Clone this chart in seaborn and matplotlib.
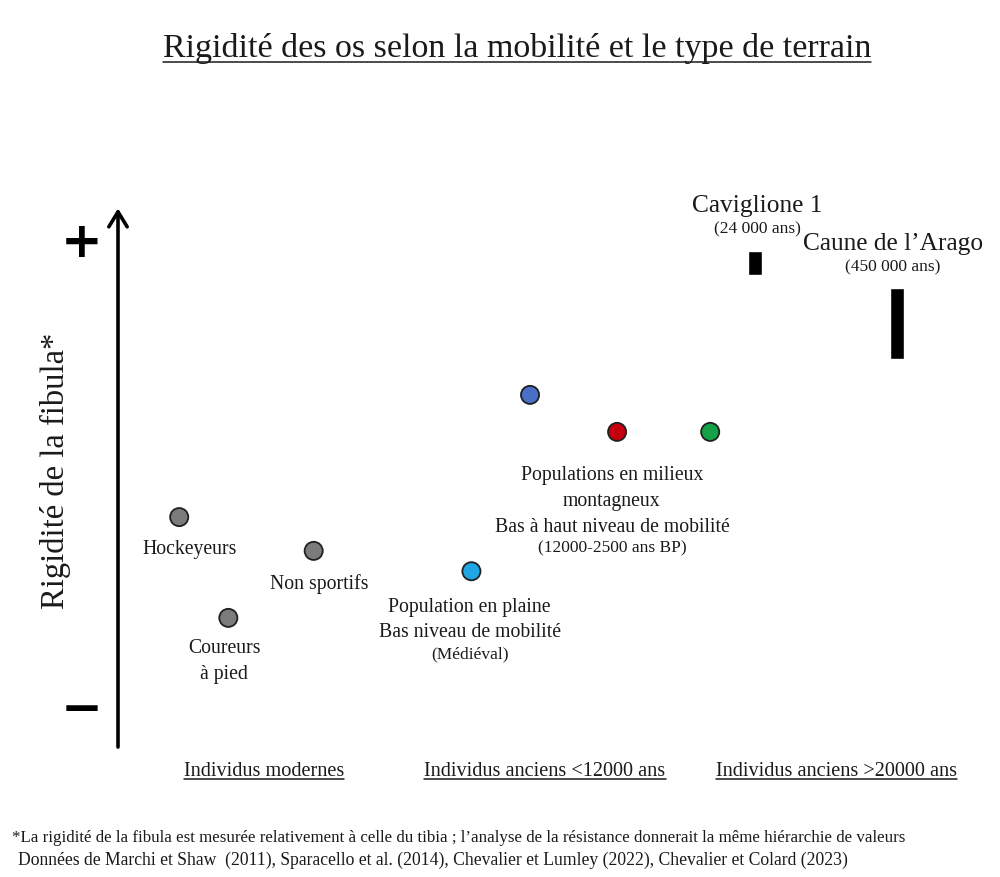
import pandas as pd
import matplotlib.pyplot as plt
import seaborn as sns
from matplotlib.lines import Line2D

# ================= DONNEES =================
groupes = ['Hockeyeurs', 'Coureurs à pied', 'Non sportifs', 'Plaine',
           'Montagne A', 'Montagne B', 'Montagne C']
pos_x = [7.1, 12.8, 22.7, 41.0, 47.8, 57.9, 68.7]
rigidite = [42.9, 24.1, 36.6, 32.8, 65.7, 58.8, 58.8]
couleurs = ['#7c7c7c', '#7c7c7c', '#7c7c7c', '#1ea7e4',
            '#4a70c6', '#c5000e', '#15a146']

fossiles = ['Caviglione 1', "Caune de l’Arago"]
fossiles_age = ['(24 000 ans)', '(450 000 ans)']
fossiles_x = [73.9, 90.4]
fossiles_bas = [88.1, 72.4]
fossiles_haut = [92.5, 85.6]

categories = ['Individus modernes', 'Individus anciens <12000 ans',
              'Individus anciens >20000 ans']

titre = 'Rigidité des os selon la mobilité et le type de terrain'
note_1 = ('*La rigidité de la fibula est mesurée relativement à celle du tibia ; '
          'l’analyse de la résistance donnerait la même hiérarchie de valeurs')
note_2 = ('Données de Marchi et Shaw  (2011), Sparacello et al. (2014), '
          'Chevalier et Lumley (2022), Chevalier et Colard (2023)')

df = pd.DataFrame({'groupe': groupes, 'x': pos_x, 'rigidite': rigidite})

sns.set_theme(style='white')
plt.rcParams['font.family'] = ['Liberation Serif', 'DejaVu Serif']
ENCRE = '#1a1a1a'

fig = plt.figure(figsize=(10, 8.78), dpi=100)
ax = fig.add_axes([0.118, 0.148, 0.862, 0.6105])
ax.set_xlim(0, 100)
ax.set_ylim(0, 100)
ax.axis('off')

# points
sns.scatterplot(data=df, x='x', y='rigidite', hue='groupe',
                palette=dict(zip(groupes, couleurs)), s=170,
                edgecolor='#202020', linewidth=1.3, legend=False, ax=ax, zorder=3)

# barres des fossiles
hauteurs = [h - b for h, b in zip(fossiles_haut, fossiles_bas)]
ax.bar(fossiles_x, hauteurs, bottom=fossiles_bas, width=1.6, color='black')

# fleche verticale
ax.annotate('', xy=(0, 1.005), xytext=(0, 0), xycoords='axes fraction',
            arrowprops=dict(arrowstyle='->,head_length=0.9,head_width=0.55',
                            lw=2.6, color='black', shrinkA=0, shrinkB=0))

# etiquettes des points
fs = 14.2
fp = 12.5
ls = 1.47
ax.text(8.35, 37.1, 'Hockeyeurs', ha='center', va='center', fontsize=fs, color=ENCRE)
ax.text(23.4, 30.6, 'Non sportifs', ha='center', va='center', fontsize=fs, color=ENCRE)
ax.text(12.3, 16.2, 'Coureurs\nà pied', ha='center', va='center', fontsize=fs,
        linespacing=ls, color=ENCRE)
ax.text(40.8, 23.9, 'Population en plaine\nBas niveau de mobilité', ha='center',
        va='center', fontsize=fs, linespacing=ls, color=ENCRE)
ax.text(40.8, 17.5, '(Médiéval)', ha='center', va='center', fontsize=fp, color=ENCRE)
ax.text(57.3, 46.0, 'Populations en milieux\nmontagneux\nBas à haut niveau de mobilité',
        ha='center', va='center', fontsize=fs, linespacing=ls, color=ENCRE)
ax.text(57.3, 37.2, '(12000-2500 ans BP)', ha='center', va='center', fontsize=fp,
        color=ENCRE)

# etiquettes des fossiles
for nom, age, xt, yt in zip(fossiles, fossiles_age, [74.2, 89.9], [101.1, 94.0]):
    ax.text(xt, yt, nom, ha='center', va='center', fontsize=18.3, color=ENCRE, clip_on=False)
    ax.text(xt, yt - 4.4, age, ha='center', va='center', fontsize=fp, color=ENCRE,
            clip_on=False)

# textes de la figure
t_titre = fig.text(0.517, 0.9445, titre, ha='center', va='center', fontsize=24.5, color=ENCRE)
fig.text(0.055, 0.4636, 'Rigidité de la fibula*', rotation=90, ha='center', va='center',
         fontsize=23.5, color=ENCRE)
fig.text(0.082, 0.7232, '+', ha='center', va='center', fontsize=36, fontweight='bold',
         family='DejaVu Sans', color='black')
fig.text(0.082, 0.191, '\u2212', ha='center', va='center', fontsize=36, fontweight='bold',
         family='DejaVu Sans', color='black')

t_cat = []
for nom, xc in zip(categories, [0.264, 0.545, 0.836]):
    t_cat.append(fig.text(xc, 0.1208, nom, ha='center', va='center', fontsize=14.6,
                          color=ENCRE))

fig.text(0.012, 0.0456, note_1, ha='left', va='center', fontsize=12.2, color=ENCRE)
fig.text(0.018, 0.0205, note_2, ha='left', va='center', fontsize=12.7, color=ENCRE)

# soulignements
fig.canvas.draw()
rend = fig.canvas.get_renderer()
W, H = fig.bbox.width, fig.bbox.height
for t in [t_titre] + t_cat:
    bb = t.get_window_extent(renderer=rend)
    y = (bb.y0 + 1) / H
    fig.add_artist(Line2D([bb.x0 / W, bb.x1 / W], [y, y], color=ENCRE, lw=1.1))

fig.savefig('out.png', dpi=100, facecolor='white')
